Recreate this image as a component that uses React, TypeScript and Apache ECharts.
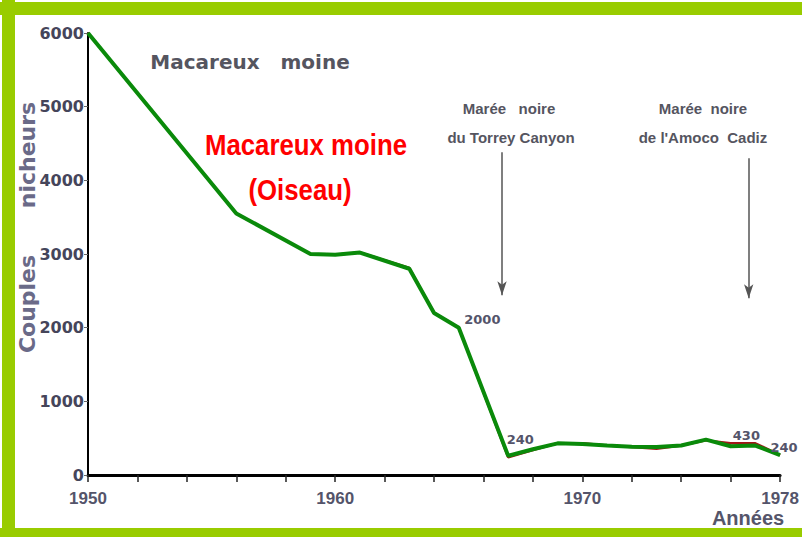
import React, { useEffect, useRef } from "react";
import * as echarts from "echarts";

const years = [1950, 1956, 1959, 1960, 1961, 1963, 1964, 1965, 1967, 1968, 1969, 1970, 1971, 1972, 1973, 1974, 1975, 1976, 1977, 1978];
const couples = [6000, 3550, 3000, 2990, 3020, 2800, 2200, 2000, 260, 350, 430, 420, 400, 385, 380, 400, 480, 390, 400, 270];
const originalCouples = [6000, 3550, 3000, 2990, 3020, 2810, 2200, 2000, 240, 340, 430, 430, 400, 380, 355, 400, 470, 430, 430, 270];
const pointLabels: Record<number, string> = { 1965: "2000", 1967: "240", 1977: "430", 1978: "240" };
const xLabelYears = [1950, 1960, 1970, 1978];
const spillYears = [1966.75, 1976.73];
const arrowTop = [4380, 4300];
const arrowBottom = [2440, 2400];

const labelPos: Record<number, any> = {
  1965: { position: "right", offset: [0, -8] },
  1967: { position: "top", offset: [12, -4] },
  1977: { position: "top", offset: [-9, 2] },
  1978: { position: "top", offset: [4, 4] },
};

const GREY = "#54546a";
const ARIAL = "'Liberation Sans', Arial, sans-serif";

export default function App() {
  const ref = useRef<HTMLDivElement>(null);
  useEffect(() => {
    if (!ref.current) return;
    const chart = echarts.init(ref.current, null, { renderer: "svg" });
    const data = years.map((y, i) => {
      const item: any = { value: [y, couples[i]] };
      if (pointLabels[y]) {
        item.label = {
          show: true,
          formatter: pointLabels[y],
          color: GREY,
          fontWeight: "bold",
          fontSize: 13,
          fontFamily: "'DejaVu Sans', sans-serif",
          ...labelPos[y],
        };
      }
      return item;
    });
    const txt = (x: number, y: number, text: string, font: string, fill: string, extra: any = {}) => ({
      type: "text",
      x,
      y,
      ...extra,
      style: { text, fill, font, textAlign: "center", textVerticalAlign: "middle" },
    });
    chart.setOption({
      animation: false,
      backgroundColor: "#ffffff",
      grid: { left: 88, right: 20, top: 33, bottom: 62, containLabel: false },
      xAxis: {
        type: "value",
        min: 1950,
        max: 1978,
        interval: 2,
        splitLine: { show: false },
        axisLine: { show: true, lineStyle: { color: "#000", width: 3 } },
        axisTick: { show: true, length: 7, lineStyle: { color: "#222", width: 1.5 } },
        axisLabel: {
          margin: 15,
          color: GREY,
          fontWeight: "bold",
          fontSize: 17,
          fontFamily: ARIAL,
          formatter: (v: number) => (xLabelYears.includes(v) ? String(v) : ""),
          showMaxLabel: true,
        },
      },
      yAxis: {
        type: "value",
        min: 0,
        max: 6000,
        interval: 1000,
        splitLine: { show: false },
        axisLine: { show: true, lineStyle: { color: "#000", width: 2 } },
        axisTick: { show: true, length: 4, lineStyle: { color: "#666", width: 1 } },
        axisLabel: {
          margin: 4,
          color: "#45455a",
          fontWeight: "bold",
          fontSize: 16,
          fontFamily: "'DejaVu Sans', sans-serif",
          formatter: (v: number) => String(v),
        },
      },
      series: [
        {
          type: "line",
          data: years.map((y, i) => [y, originalCouples[i]]),
          symbol: "none",
          silent: true,
          lineStyle: { color: "#a01818", width: 2.5 },
          z: 3,
        },
        {
          type: "line",
          data,
          symbol: "circle",
          symbolSize: 1,
          showSymbol: true,
          itemStyle: { color: "rgba(0,0,0,0)" },
          lineStyle: { color: "#0a8a0a", width: 4 },
          z: 5,
          markLine: {
            silent: true,
            symbol: ["none", "arrow"],
            symbolSize: [7, 14],
            label: { show: false },
            lineStyle: { color: "#555", width: 1.5, type: "solid" },
            data: spillYears.map((yr, i) => [
              { coord: [yr, arrowTop[i]] },
              { coord: [yr, arrowBottom[i]] },
            ]),
          },
        },
      ],
      graphic: [
        { type: "rect", shape: { x: 0, y: 2, width: 802, height: 13 }, style: { fill: "#99cc00" } },
        { type: "rect", shape: { x: 2, y: 0, width: 13, height: 537 }, style: { fill: "#99cc00" } },
        { type: "rect", shape: { x: 0, y: 528, width: 802, height: 9 }, style: { fill: "#99cc00" } },
        txt(250, 62, "Macareux   moine", "bold 20px 'DejaVu Sans', sans-serif", "#55555f"),
        txt(306, 145, "Macareux moine", `bold 30px ${ARIAL}`, "#ff0000", { scaleX: 0.86 }),
        txt(300, 190, "(Oiseau)", `bold 30px ${ARIAL}`, "#ff0000", { scaleX: 0.86 }),
        txt(509, 108, "Marée   noire", `bold 15px ${ARIAL}`, "#55555f"),
        txt(511, 137, "du Torrey Canyon", `bold 15px ${ARIAL}`, "#55555f"),
        txt(703, 108, "Marée  noire", `bold 15px ${ARIAL}`, "#55555f"),
        txt(703, 137, "de l'Amoco  Cadiz", `bold 15px ${ARIAL}`, "#55555f"),
        txt(27, 304, "Couples", "bold 22px 'DejaVu Sans', sans-serif", "#6a6a88", { rotation: Math.PI / 2 }),
        txt(27, 155, "nicheurs", "bold 22px 'DejaVu Sans', sans-serif", "#6a6a88", { rotation: Math.PI / 2 }),
        txt(748, 518, "Années", `bold 20px ${ARIAL}`, "#55556a"),
      ],
    });
    return () => chart.dispose();
  }, []);
  return (
    <div
      ref={ref}
      style={{ position: "fixed", left: 0, top: 0, width: 802, height: 537, background: "#fff" }}
    />
  );
}
